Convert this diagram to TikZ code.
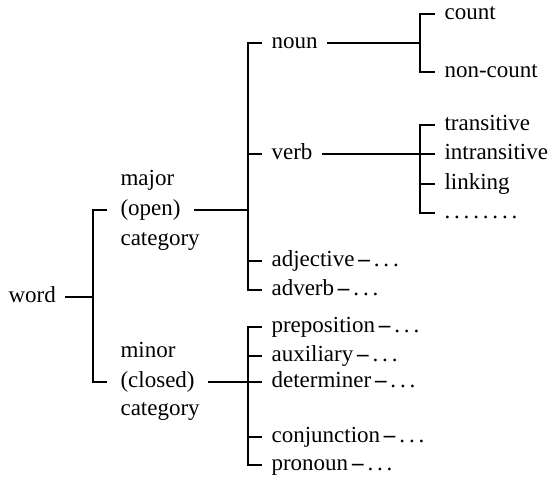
\documentclass[tikz,border=0pt]{standalone}
\usepackage{fontspec}
\setmainfont{Liberation Serif}

\newcommand{\etcdots}{\,\textbf{--}\,.\,.\,.}

\tikzset{
	lbl/.style={anchor=west, inner ysep=0pt, inner xsep=9pt,
		text height=14pt, text depth=4pt, font=\fontsize{23}{30}\selectfont},
	cat/.style={lbl, inner xsep=13pt}
}

\begin{document}
\begin{tikzpicture}[x=1pt, y=-1pt, line width=1.1pt]
	\useasboundingbox (0,0) rectangle (553,479);

	% root
	\node[lbl] (word) at (-1,297) {word};
	\coordinate (jw) at (93,297);
	\draw (word) -- (jw);

	% the two categories
	\node[cat] (major) at (107,180) {major};
	\node[cat] (open) at (107,210) {(open)};
	\node[cat] (category1) at (107,240) {category};

	\node[cat] (minor) at (107,352) {minor};
	\node[cat] (closed) at (107,382) {(closed)};
	\node[cat] (category2) at (107,410) {category};

	\draw (open.west) -| (jw) |- (closed.west);

	% major (open) category
	\node[lbl] (noun) at (262,43) {noun};
	\node[lbl] (verb) at (262,154) {verb};
	\node[lbl] (adjective) at (262,261) {adjective\etcdots};
	\node[lbl] (adverb) at (262,290) {adverb\etcdots};

	\coordinate (jo) at (248,210);
	\draw (open) -- (jo);
	\draw (noun.west) -| (jo) |- (adverb.west);
	\draw (verb.west) -- (verb.west -| jo);
	\draw (adjective.west) -- (adjective.west -| jo);

	% noun
	\node[lbl] (count) at (435,14) {count};
	\node[lbl] (noncount) at (435,72) {non-count};
	\coordinate (jn) at (420,43);
	\draw (noun) -- (jn);
	\draw (count.west) -| (jn) |- (noncount.west);

	% verb
	\node[lbl] (transitive) at (435,125) {transitive};
	\node[lbl] (intransitive) at (435,154) {intransitive};
	\node[lbl] (linking) at (435,184) {linking};
	\node[lbl] (vdots) at (435,213) {.\,.\,.\,.\,.\,.\,.\,.};
	\coordinate (jv) at (420,154);
	\draw (verb) -- (intransitive);
	\draw (transitive.west) -| (jv) |- (vdots.west);
	\draw (linking.west) -- (linking.west -| jv);

	% minor (closed) category
	\node[lbl] (preposition) at (262,327) {preposition\etcdots};
	\node[lbl] (auxiliary) at (262,356) {auxiliary\etcdots};
	\node[lbl] (determiner) at (262,382) {determiner\etcdots};
	\node[lbl] (conjunction) at (262,437) {conjunction\etcdots};
	\node[lbl] (pronoun) at (262,465) {pronoun\etcdots};

	\coordinate (jc) at (248,382);
	\draw (closed) -- (determiner);
	\draw (preposition.west) -| (jc) |- (pronoun.west);
	\draw (auxiliary.west) -- (auxiliary.west -| jc);
	\draw (conjunction.west) -- (conjunction.west -| jc);
\end{tikzpicture}
\end{document}
